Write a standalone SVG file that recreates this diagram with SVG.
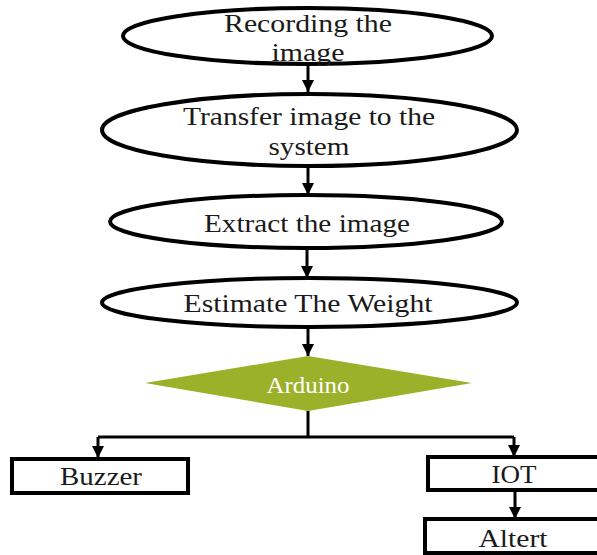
<svg xmlns="http://www.w3.org/2000/svg" width="597" height="555" viewBox="0 0 597 555">
  <style>
    .node { fill: #ffffff; stroke: #000000; stroke-width: 4; }
    .box { fill: #ffffff; stroke: #000000; stroke-width: 4; }
    .dia { fill: #9cb12a; stroke: none; }
    .t { font-family: "Liberation Serif", "Times New Roman", serif; font-size: 26px; fill: #1a1a1a; text-anchor: middle; }
    .tw { font-family: "Liberation Serif", "Times New Roman", serif; font-size: 24px; fill: #ffffff; text-anchor: middle; }
    .c { fill: none; stroke: #000000; stroke-width: 3; }
  </style>
  <defs>
    <marker id="ah" viewBox="0 0 10 10" refX="10" refY="5" markerWidth="12" markerHeight="12" markerUnits="userSpaceOnUse" orient="auto">
      <path d="M0,0 L10,5 L0,10 z" fill="#000000"/>
    </marker>
  </defs>
  <rect width="597" height="555" fill="#ffffff"/>

  <g id="connectors">
    <path class="c" d="M308,64 L308,92" marker-end="url(#ah)"/>
    <path class="c" d="M308,166 L308,195" marker-end="url(#ah)"/>
    <path class="c" d="M307,248 L307,278" marker-end="url(#ah)"/>
    <path class="c" d="M308,327 L308,356" marker-end="url(#ah)"/>
    <path class="c" d="M308,411 L308,437"/>
    <path class="c" d="M98,437 L514,437"/>
    <path class="c" d="M98,437 L98,458" marker-end="url(#ah)"/>
    <path class="c" d="M514,437 L514,457" marker-end="url(#ah)"/>
    <path class="c" d="M515,490 L515,519" marker-end="url(#ah)"/>
  </g>

  <g id="recording">
    <ellipse class="node" cx="307.5" cy="36" rx="184.5" ry="28"/>
    <text class="t" x="308" y="32" textLength="168" lengthAdjust="spacingAndGlyphs">Recording the</text>
    <text class="t" x="308" y="61" textLength="73" lengthAdjust="spacingAndGlyphs">image</text>
  </g>

  <g id="transfer">
    <ellipse class="node" cx="309.5" cy="130" rx="207.5" ry="36"/>
    <text class="t" x="309" y="125" textLength="252" lengthAdjust="spacingAndGlyphs">Transfer image to the</text>
    <text class="t" x="309" y="155" textLength="81" lengthAdjust="spacingAndGlyphs">system</text>
  </g>

  <g id="extract">
    <ellipse class="node" cx="306" cy="221.5" rx="196" ry="26.5"/>
    <text class="t" x="307" y="232" textLength="206" lengthAdjust="spacingAndGlyphs">Extract the image</text>
  </g>

  <g id="estimate">
    <ellipse class="node" cx="309.5" cy="302.5" rx="207.5" ry="24.5"/>
    <text class="t" x="308" y="312" textLength="249" lengthAdjust="spacingAndGlyphs">Estimate The Weight</text>
  </g>

  <g id="arduino">
    <polygon class="dia" points="308,356 472,383 308,411 145,383"/>
    <text class="tw" x="308" y="393" textLength="83" lengthAdjust="spacingAndGlyphs">Arduino</text>
  </g>

  <g id="buzzer">
    <rect class="box" x="12" y="459" width="176" height="34"/>
    <text class="t" x="101" y="485" textLength="82" lengthAdjust="spacingAndGlyphs">Buzzer</text>
  </g>

  <g id="iot">
    <rect class="box" x="428" y="457" width="174" height="33"/>
    <text class="t" x="514" y="483" textLength="45" lengthAdjust="spacingAndGlyphs">IOT</text>
  </g>

  <g id="altert">
    <rect class="box" x="425" y="519" width="177" height="34"/>
    <text class="t" x="513" y="547" textLength="69" lengthAdjust="spacingAndGlyphs">Altert</text>
  </g>
</svg>
